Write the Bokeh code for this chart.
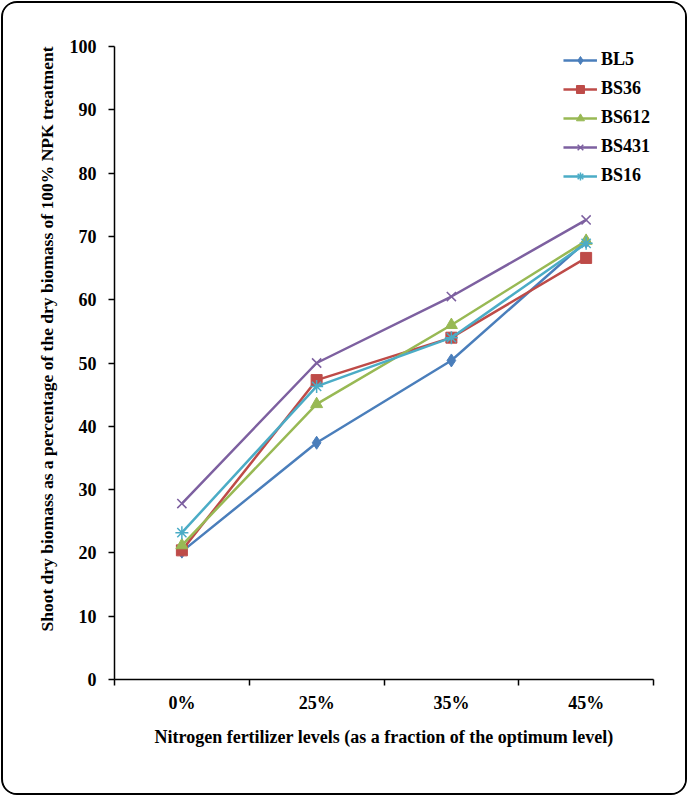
from bokeh.plotting import figure
from bokeh.models import Range1d, FixedTicker, LinearAxis, Legend, LegendItem, Title
from bokeh.embed import file_html
from bokeh.resources import INLINE

# Nitrogen levels (categories) and shoot dry biomass (% of 100% NPK) per strain
levels = ["0%", "25%", "35%", "45%"]
bl5 = [20.2, 37.4, 50.4, 69.2]
bs36 = [20.4, 47.3, 54.0, 66.6]
bs612 = [21.2, 43.5, 56.0, 69.3]
bs431 = [27.8, 50.0, 60.5, 72.6]
bs16 = [23.2, 46.3, 54.0, 68.9]
y_ticks = list(range(0, 101, 10))

series = [
    ("BL5", bl5, "#4A7EBB", "diamond", 13),
    ("BS36", bs36, "#BE4B48", "square", 11),
    ("BS612", bs612, "#98B954", "triangle", 12),
    ("BS431", bs431, "#7D60A0", "x", 13),
    ("BS16", bs16, "#4BACC6", "asterisk", 13),
]

FONT = "Liberation Serif"
FS = "18px"
# canvas sits inside a 1px margin and a 2px rounded border
W, H = 686, 794
LEFT, RIGHT, TOP, BOTTOM = 111, 36, 43, 118

p = figure(width=W, height=H, output_backend="svg", toolbar_location=None,
           x_range=Range1d(0, len(levels)), y_range=Range1d(0, 100),
           min_border_left=LEFT, min_border_right=RIGHT,
           min_border_top=TOP, min_border_bottom=BOTTOM)
p.xaxis.visible = False
p.yaxis.visible = False
p.grid.visible = False
p.outline_line_color = None
p.background_fill_color = "white"
p.border_fill_color = "white"
p.styles = {"border": "2px solid black", "border-radius": "16px",
            "margin": "1px", "overflow": "hidden"}

xs = [i + 0.5 for i in range(len(levels))]

xaxis = LinearAxis(ticker=FixedTicker(ticks=xs, minor_ticks=list(range(len(levels) + 1))),
                   major_label_overrides={x: lab for x, lab in zip(xs, levels)},
                   major_tick_out=0, major_tick_in=0,
                   minor_tick_out=6, minor_tick_in=0,
                   minor_tick_line_color="black", minor_tick_line_width=1.5,
                   axis_line_color="black", axis_line_width=1.5,
                   major_label_standoff=7,
                   major_label_text_font=FONT, major_label_text_font_style="bold",
                   major_label_text_font_size=FS, major_label_text_color="black",
                   axis_label="Nitrogen fertilizer levels (as a fraction of the optimum level)",
                   axis_label_text_font=FONT, axis_label_text_font_style="bold",
                   axis_label_text_font_size=FS, axis_label_text_color="black",
                   axis_label_standoff=11)
p.add_layout(xaxis, "below")

yaxis = LinearAxis(ticker=FixedTicker(ticks=y_ticks, minor_ticks=[]),
                   major_tick_out=6, major_tick_in=0,
                   major_tick_line_color="black", major_tick_line_width=1.5,
                   axis_line_color="black", axis_line_width=1.5,
                   major_label_standoff=12,
                   major_label_text_font=FONT, major_label_text_font_style="bold",
                   major_label_text_font_size=FS, major_label_text_color="black")
p.add_layout(yaxis, "left")

p.add_layout(Title(text="Shoot dry biomass as a percentage of the dry biomass of 100% NPK treatment",
                   align="right", standoff=19,
                   text_font=FONT, text_font_style="bold", text_font_size="17.5px",
                   text_color="black"), "left")

items = []
for name, vals, color, marker, size in series:
    r1 = p.line(xs, vals, line_color=color, line_width=2.5)
    r2 = p.scatter(xs, vals, marker=marker, size=size, fill_color=color,
                   line_color=color, line_width=1.5 if marker in ("x", "asterisk") else 1)
    items.append(LegendItem(label=name, renderers=[r1, r2]))

legend = Legend(items=items, location="top_right", border_line_color=None,
                background_fill_alpha=0, label_text_font=FONT,
                label_text_font_style="bold", label_text_font_size=FS,
                label_text_color="black", glyph_width=34, glyph_height=20,
                label_height=20, spacing=8, padding=0, margin=3, label_standoff=4)
p.add_layout(legend)

open("out.html", "w").write(file_html(p, INLINE))
